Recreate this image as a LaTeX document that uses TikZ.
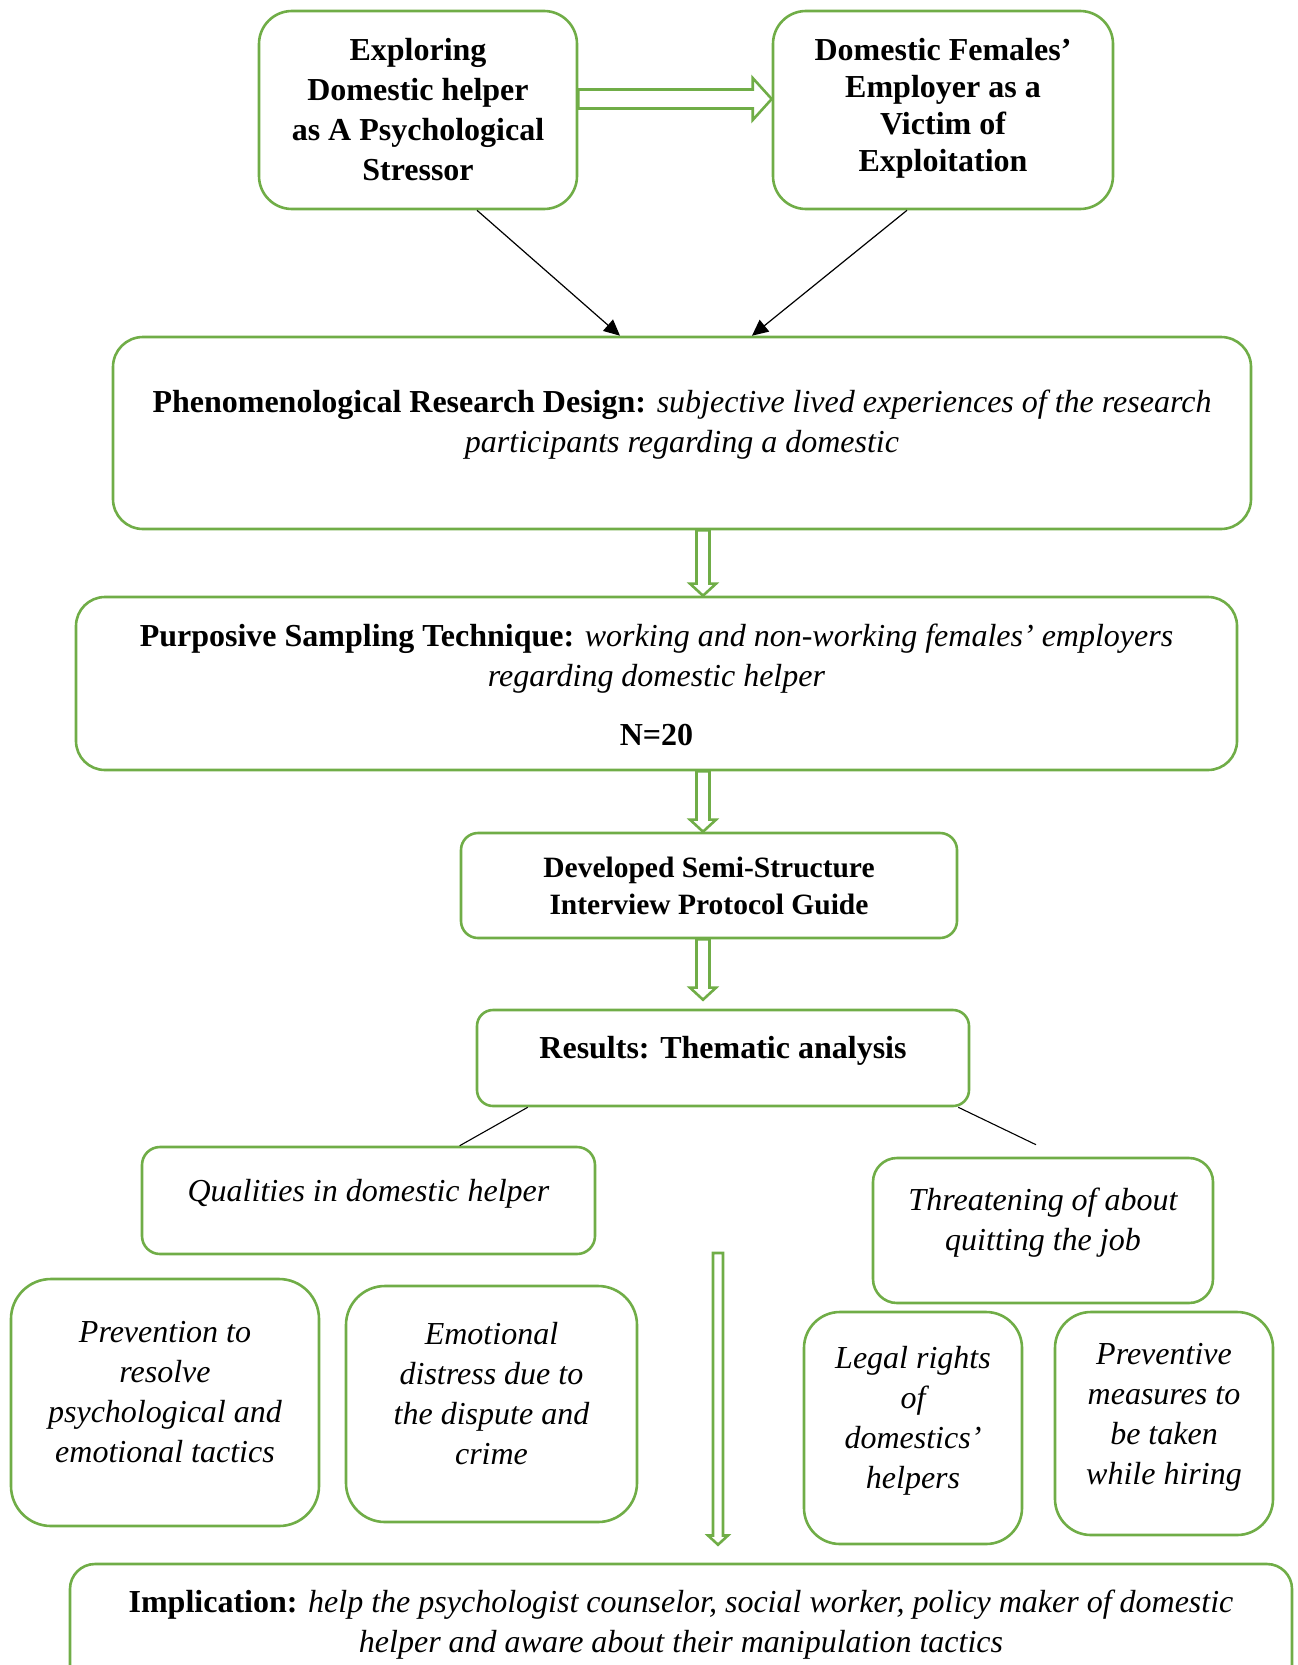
\documentclass[tikz,border=0pt]{standalone}
\usepackage{fontspec}
\setmainfont{Liberation Serif}
\usepackage{tikz}
\usetikzlibrary{arrows.meta,positioning,calc}

\definecolor{framegreen}{HTML}{70AD47}

% hollow block arrows: [shaft half width] {start} {tip}
\newcommand{\hollowdown}[3][6.5]{%
  \draw[hollow] ($(#2)+(-#1,0)$) -- ($(#3)+(-#1,-1.85*#1)$) -- ($(#3)+(-2*#1,-1.85*#1)$)
    -- (#3) -- ($(#3)+(2*#1,-1.85*#1)$) -- ($(#3)+(#1,-1.85*#1)$) -- ($(#2)+(#1,0)$) -- cycle;}
\newcommand{\hollowright}[2]{%
  \draw[hollow] ($(#1)+(0,-9.5)$) -- ($(#2)+(-19,-9.5)$) -- ($(#2)+(-19,-21)$)
    -- (#2) -- ($(#2)+(-19,21)$) -- ($(#2)+(-19,9.5)$) -- ($(#1)+(0,9.5)$) -- cycle;}

\begin{document}
\begin{tikzpicture}[x=1pt, y=-1pt,
  box/.style={draw=framegreen, line width=2.6pt, rounded corners=30pt, align=center,
    inner sep=0pt, text depth=10pt, font=\fontsize{32}{40}\selectfont},
  title/.style={box, font=\fontsize{32}{37}\selectfont\bfseries},
  theme/.style={box, font=\fontsize{32}{40}\selectfont\itshape},
  conn/.style={-{Triangle[length=16pt,width=15pt]}, line width=1.2pt},
  branch/.style={line width=1.1pt},
  hollow/.style={draw=framegreen, line width=2.6pt, fill=white, line join=miter}
]
\useasboundingbox (0,0) rectangle (1298,1665);

% top row
\node[title, font=\fontsize{32}{40}\selectfont\bfseries, minimum width=318pt, minimum height=198pt,
  text height=151pt, rounded corners=33pt] (expl) at (418,110)
  {Exploring\\Domestic helper\\as A Psychological\\Stressor};
\node[title, minimum width=340pt, minimum height=198pt, text height=132pt, rounded corners=33pt]
  (empl) at (943,110) {Domestic Females’\\Employer as a\\Victim of\\Exploitation};

% design and sampling
\node[box, minimum width=1138pt, minimum height=192pt, text height=49pt] (phen) at (682,433)
  {\textbf{Phenomenological Research Design:} \textit{subjective lived experiences of the research}\\
   \textit{participants regarding a domestic}};
\node[box, minimum width=1161pt, minimum height=173pt, text height=134pt, rounded corners=29pt]
  (purp) at (656.5,683.5)
  {\textbf{Purposive Sampling Technique:} \textit{working and non-working females’ employers}\\
   \textit{regarding domestic helper}\\[19pt]
   \textbf{N=20}};
\node[title, font=\fontsize{29.5}{37}\selectfont\bfseries, minimum width=496pt, minimum height=105pt,
  text height=67pt, rounded corners=17pt]
  (dev) at (709,885.5) {Developed Semi-Structure\\Interview Protocol Guide};
\node[title, minimum width=492pt, minimum height=96pt, text height=11pt, rounded corners=16pt]
  (res) at (723,1058) {Results: Thematic analysis};

% themes
\node[theme, minimum width=453pt, minimum height=107pt, text height=12pt, rounded corners=18pt]
  (qual) at (368.5,1200.5) {Qualities in domestic helper};
\node[theme, minimum width=340pt, minimum height=145pt, text height=50pt, rounded corners=24pt]
  (thr) at (1043,1230.5) {Threatening of about\\quitting the job};
\node[theme, minimum width=308pt, minimum height=247pt, text height=130pt, rounded corners=40pt]
  (prev) at (165,1402.5) {Prevention to\\resolve\\psychological and\\emotional tactics};
\node[theme, minimum width=291pt, minimum height=236pt, text height=131pt, rounded corners=39pt]
  (emo) at (491.5,1404) {Emotional\\distress due to\\the dispute and\\crime};
\node[theme, minimum width=218pt, minimum height=232pt, text height=131pt, rounded corners=36pt]
  (legal) at (913,1428) {Legal rights\\of\\domestics’\\helpers};
\node[theme, minimum width=218pt, minimum height=223pt, text height=132pt, rounded corners=36pt]
  (pmeas) at (1164,1423.5) {Preventive\\measures to\\be taken\\while hiring};

% implication
\node[box, minimum width=1222pt, minimum height=136pt, text height=51pt, rounded corners=25pt]
  (impl) at (681,1632)
  {\textbf{Implication:} \textit{help the psychologist counselor, social worker, policy maker of domestic}\\
   \textit{helper and aware about their manipulation tactics}};

% connectors
\draw[conn] (expl.south) ++(59,0) -- ($(phen.north)+(-62,0)$);
\draw[conn] (empl.south) ++(-36,0) -- ($(phen.north)+(70,0)$);
\draw[branch] (res.south west) ++(52,0) -- ($(qual.north west)+(319,0)$);
\draw[branch] (res.south east) ++(-12,0) -- ($(thr.north)+(-7,-12)$);

\coordinate (hlevel) at (0,99);
\coordinate (spine) at (703,0);
\coordinate (devtip) at ($(res.north -| spine)+(0,-9)$);
\coordinate (longtop) at (718,1253);
\coordinate (longtip) at ($(impl.north -| longtop)+(0,-18)$);
\hollowright{expl.east |- hlevel}{empl.west |- hlevel}
\hollowdown{phen.south -| spine}{purp.north -| spine}
\hollowdown{purp.south -| spine}{dev.north -| spine}
\hollowdown{dev.south -| spine}{devtip}
\hollowdown[5]{longtop}{longtip}
\end{tikzpicture}
\end{document}
